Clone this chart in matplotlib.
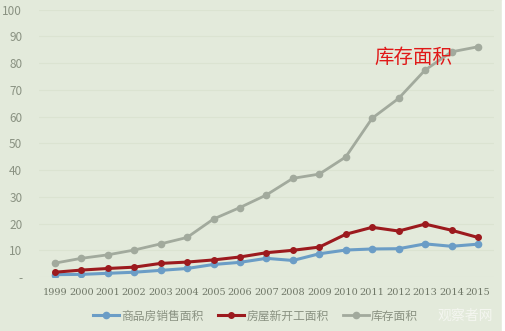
import matplotlib.pyplot as plt
import numpy as np

plt.rcParams['font.family'] = ['Noto Sans CJK SC', 'DejaVu Sans']

years = list(range(1999, 2016))
sales = [0.9, 1.0, 1.4, 1.8, 2.5, 3.2, 4.7, 5.5, 7.0, 6.2, 8.7, 10.1, 10.5, 10.6, 12.4, 11.5, 12.3]
new_starts = [1.8, 2.6, 3.2, 3.7, 5.1, 5.6, 6.4, 7.5, 9.1, 10.0, 11.2, 16.0, 18.6, 17.2, 19.8, 17.5, 14.8]
inventory = [5.2, 7.0, 8.3, 10.1, 12.4, 14.8, 21.7, 26.0, 30.7, 36.9, 38.5, 44.9, 59.4, 66.8, 77.4, 84.2, 86.1]
names = ['商品房销售面积', '房屋新开工面积', '库存面积']

bg = '#e3eadb'
fig = plt.figure(figsize=(5.06, 3.31), dpi=100, facecolor=bg)
ax = fig.add_axes([0.077, 0.163, 0.899, 0.808])
ax.set_facecolor(bg)

ax.plot(years, sales, color='#6b9dc6', lw=2.2, marker='o', ms=4.5, label=names[0])
ax.plot(years, new_starts, color='#9c1a1e', lw=2.2, marker='o', ms=4, label=names[1])
ax.plot(years, inventory, color='#a2aa9d', lw=2.0, marker='o', ms=4.5, label=names[2])

ax.set_xlim(1998.4, 2015.6)
ax.set_ylim(0, 100)
ax.set_xticks(years)
ax.set_xticklabels([str(y) for y in years], family='DejaVu Serif', fontsize=7, color='#707868')
ax.set_yticks(range(0, 101, 10))
ax.set_yticklabels(['-'] + [str(v) for v in range(10, 101, 10)], fontsize=8.5, color='#8a9282')
ax.tick_params(length=0, pad=12)
ax.tick_params(axis='x', pad=8)
ax.grid(axis='y', color='#dbe3d1', lw=0.8)
ax.set_axisbelow(True)
for s in ax.spines.values():
    s.set_visible(False)

ax.text(2012.55, 82, '库存面积', color='#e01818', fontsize=14, fontweight='light',
        ha='center', va='center')

leg = fig.legend(loc='center', bbox_to_anchor=(0.505, 0.045), ncol=3, frameon=False,
                 fontsize=8.5, handlelength=2.2, columnspacing=1.2, handletextpad=0.2)
for t in leg.get_texts():
    t.set_color('#8a9282')

fig.text(0.92, 0.045, '观察者网', color='#f4f6f0', fontsize=10, ha='center', va='center')

# white strip on the right edge
fig.patches.append(plt.Rectangle((0.992, 0), 0.008, 1, transform=fig.transFigure,
                                 color='white', zorder=0))

fig.savefig('out.png', dpi=100, facecolor=bg)
